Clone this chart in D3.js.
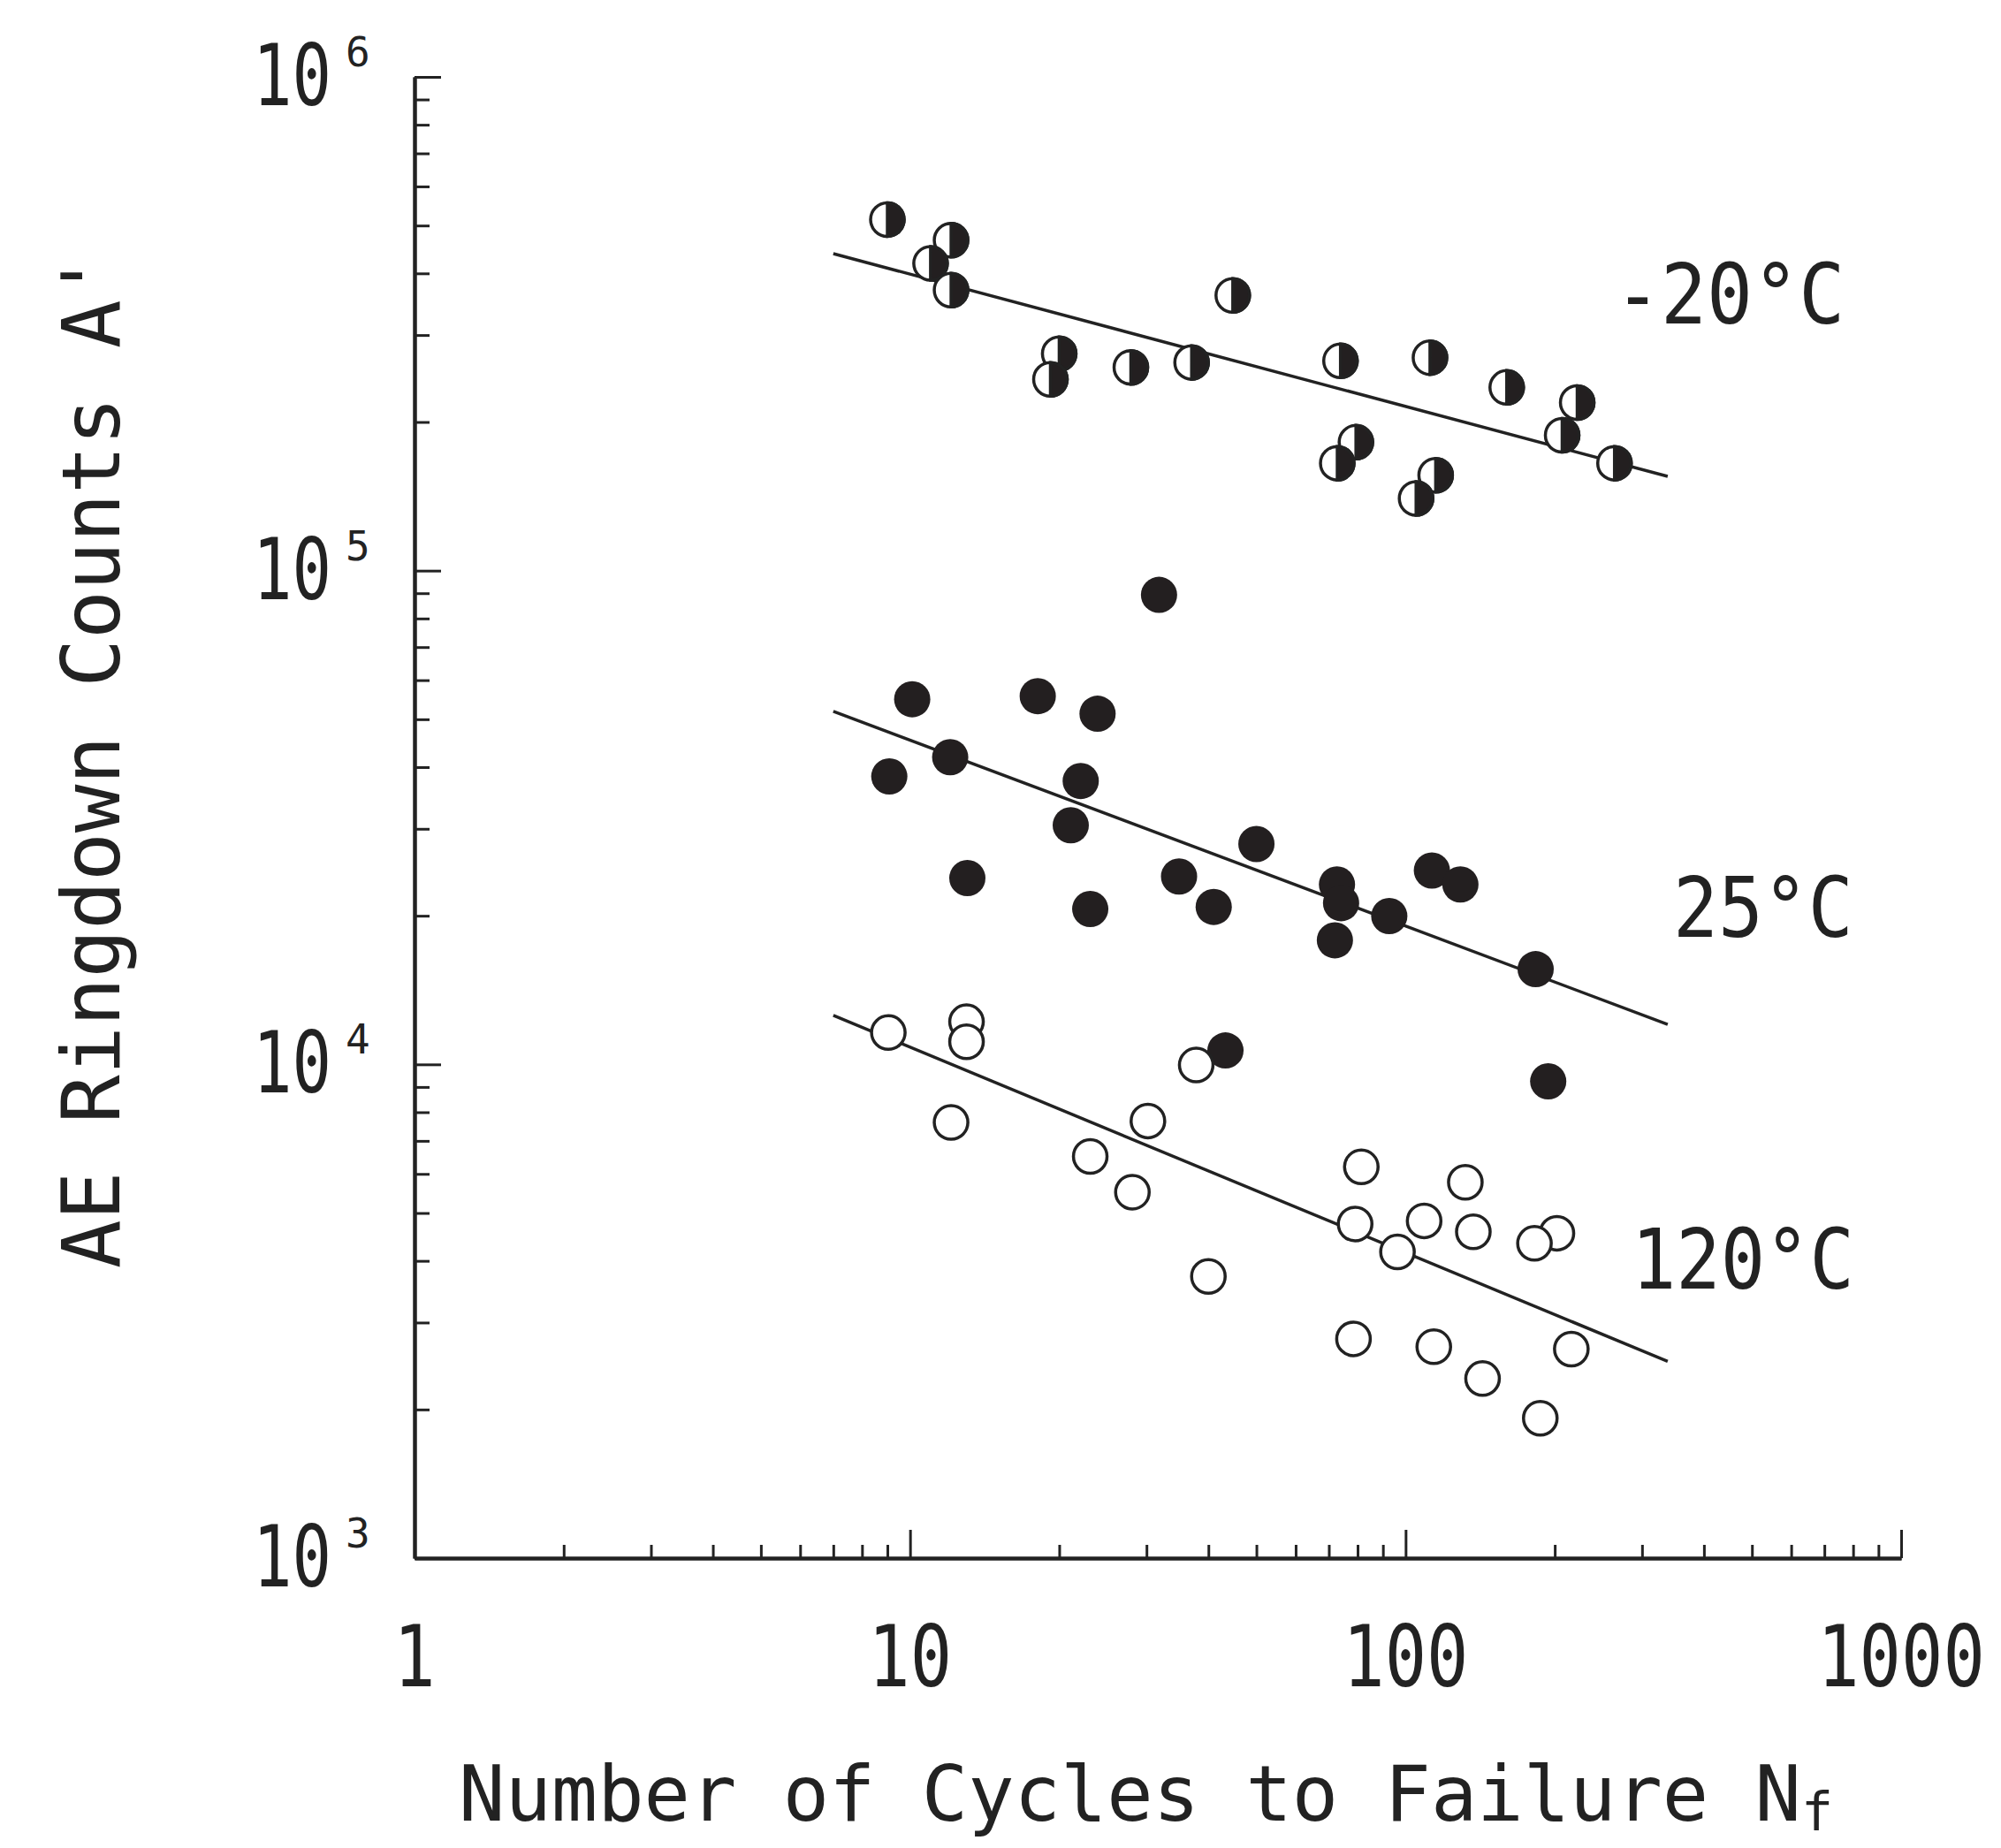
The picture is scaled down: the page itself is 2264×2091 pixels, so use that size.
<!DOCTYPE html>
<html>
<head>
<meta charset="utf-8">
<script src="https://cdn.jsdelivr.net/npm/d3@7"></script>
<style>
  body { margin: 0; background: #fff; }
  text { font-family: "DejaVu Sans Mono", monospace; fill: #222; }
</style>
</head>
<body>
<div id="chart"></div>
<script>
// -20 C (half filled markers)
var nCold = [9.0, 12.1, 11.0, 12.1, 44.8, 20.0, 19.2, 27.9, 37.0, 73.9, 112, 160, 222, 207, 264, 79.4, 72.8, 115, 105];
var aCold = [514000, 467000, 419000, 370000, 361000, 275000, 244000, 258000, 264000, 266000, 270000, 235000, 219000, 188000, 165000, 182000, 165000, 156000, 140000];

// 25 C (filled markers)
var nRoom = [31.8, 10.1, 18.1, 23.9, 12.05, 9.08, 22.1, 21.1, 50.0, 13.05, 34.9, 23.1, 41.0, 72.7, 74.1, 72.0, 92.7, 113, 129, 183, 194, 43.3];
var aRoom = [89300, 54900, 55700, 51300, 41900, 38300, 37500, 30500, 27950, 23840, 24020, 20640, 20840, 23140, 21210, 17840, 19970, 24700, 23140, 15590, 9240, 10670];

// 120 C (open markers)
var nHot = [9.04, 13.0, 13.0, 37.8, 12.1, 30.2, 23.1, 28.1, 40.0, 81.4, 132, 79.1, 109, 137, 202, 182, 96.3, 78.5, 114, 216, 143, 187];
var aHot = [11600, 12200, 11110, 9970, 7630, 7680, 6510, 5510, 3720, 6200, 5770, 4750, 4820, 4580, 4550, 4340, 4170, 2780, 2680, 2650, 2310, 1920];

// fitted lines, end points
var fitN = [7, 338];
var fitCold = [438500, 155200];
var fitRoom = [51860, 12050];
var fitHot = [12570, 2503];

var tempLabels = ["-20\u00b0C", "25\u00b0C", "120\u00b0C"];
var xTickLabels = ["1", "10", "100", "1000"];
var yTickExp = ["3", "4", "5", "6"];

var width = 2264, height = 2091;
var margin = {left: 469, right: 113, top: 87, bottom: 328};

var svg = d3.select("#chart")
  .append("svg")
    .attr("width", width)
    .attr("height", height)
    .style("background", "#fff");

var x = d3.scaleLog()
  .domain([1, 1000])
  .range([margin.left, width - margin.right]);

var y = d3.scaleLog()
  .domain([1000, 1e6])
  .range([height - margin.bottom, margin.top]);

var majorX = [10, 100, 1000];
var minorX = [];
var majorY = [1e3, 1e4, 1e5, 1e6];
var minorY = [];
[1, 10, 100].forEach(function(d) {
  for (var k = 2; k <= 9; k++) minorX.push(d * k);
});
[1e3, 1e4, 1e5].forEach(function(d) {
  for (var k = 2; k <= 9; k++) minorY.push(d * k);
});

// x axis, ticks pointing up into the plot
var xAxisG = svg.append("g")
  .attr("transform", "translate(0," + y(1000) + ")");
xAxisG.append("g")
  .call(d3.axisTop(x).tickValues(minorX).tickSize(15).tickSizeOuter(0).tickFormat(""));
xAxisG.append("g")
  .call(d3.axisTop(x).tickValues(majorX).tickSize(32).tickSizeOuter(0).tickFormat(""));

// y axis, ticks pointing right
var yAxisG = svg.append("g")
  .attr("transform", "translate(" + x(1) + ",0)");
yAxisG.append("g")
  .call(d3.axisRight(y).tickValues(minorY).tickSize(17).tickSizeOuter(0).tickFormat(""));
yAxisG.append("g")
  .call(d3.axisRight(y).tickValues(majorY).tickSize(30).tickSizeOuter(0).tickFormat(""));

svg.selectAll(".domain, .tick line")
  .attr("stroke", "#222")
  .attr("stroke-width", 4);
svg.selectAll(".tick line").attr("stroke-width", 3);

// x tick labels (narrow lettering -> squeeze horizontally)
svg.append("g")
  .selectAll("text")
  .data(xTickLabels)
  .enter()
  .append("text")
    .attr("transform", function(d) { return "translate(" + x(+d) + "," + (y(1000) + 145) + ") scale(0.82,1)"; })
    .attr("text-anchor", "middle")
    .attr("font-size", 96)
    .text(function(d) { return d; });

// y tick labels, 10 with a superscript power
var yLab = svg.append("g")
  .selectAll("g")
  .data(yTickExp)
  .enter()
  .append("g");
yLab.append("text")
    .attr("transform", function(d) { return "translate(375," + (y(Math.pow(10, +d)) + 32) + ") scale(0.77,1)"; })
    .attr("text-anchor", "end")
    .attr("font-size", 96)
    .text("10");
yLab.append("text")
    .attr("x", 391)
    .attr("y", function(d) { return y(Math.pow(10, +d)) - 12; })
    .attr("font-size", 46)
    .text(function(d) { return d; });

// axis titles
var xTitle = svg.append("text")
  .attr("x", 519)
  .attr("y", 2060)
  .attr("font-size", 87);
xTitle.append("tspan").text("Number of Cycles to Failure N");
xTitle.append("tspan")
  .attr("font-size", 60)
  .attr("dy", 11)
  .text("f");

svg.append("text")
  .attr("transform", "translate(135,860) rotate(-90)")
  .attr("text-anchor", "middle")
  .attr("font-size", 91)
  .text("AE Ringdown Counts A'");

// fitted lines
var line = d3.line()
  .x(function(d) { return x(d[0]); })
  .y(function(d) { return y(d[1]); });

[fitCold, fitRoom, fitHot].forEach(function(f) {
  svg.append("path")
    .datum(d3.zip(fitN, f))
    .attr("fill", "none")
    .attr("stroke", "#222")
    .attr("stroke-width", 3.5)
    .attr("d", line);
});

var r = 19;

// 25 C, filled
svg.append("g")
  .selectAll("circle")
  .data(d3.zip(nRoom, aRoom))
  .enter()
  .append("circle")
    .attr("cx", function(d) { return x(d[0]); })
    .attr("cy", function(d) { return y(d[1]); })
    .attr("r", r + 1.5)
    .attr("fill", "#231f20");

// 120 C, open
svg.append("g")
  .selectAll("circle")
  .data(d3.zip(nHot, aHot))
  .enter()
  .append("circle")
    .attr("cx", function(d) { return x(d[0]); })
    .attr("cy", function(d) { return y(d[1]); })
    .attr("r", r)
    .attr("fill", "#fff")
    .attr("stroke", "#222")
    .attr("stroke-width", 3.5);

// -20 C, left half white, right half black
var half = d3.arc()
  .innerRadius(0)
  .outerRadius(r)
  .startAngle(0)
  .endAngle(Math.PI);

var cold = svg.append("g")
  .selectAll("g")
  .data(d3.zip(nCold, aCold))
  .enter()
  .append("g")
    .attr("transform", function(d) { return "translate(" + x(d[0]) + "," + y(d[1]) + ")"; });
cold.append("circle")
    .attr("r", r)
    .attr("fill", "#fff")
    .attr("stroke", "#222")
    .attr("stroke-width", 3.5);
cold.append("path")
    .attr("d", half)
    .attr("fill", "#231f20")
    .attr("stroke", "#222")
    .attr("stroke-width", 3.5);

// temperature labels
var labelPos = [[1827, 366, 0.92], [1893, 1060, 0.9], [1846, 1458, 0.89]];
svg.append("g")
  .selectAll("text")
  .data(tempLabels)
  .enter()
  .append("text")
    .attr("transform", function(d, i) {
      return "translate(" + labelPos[i][0] + "," + labelPos[i][1] + ") scale(" + labelPos[i][2] + ",1)";
    })
    .attr("font-size", 94)
    .text(function(d) { return d; });
</script>
</body>
</html>
